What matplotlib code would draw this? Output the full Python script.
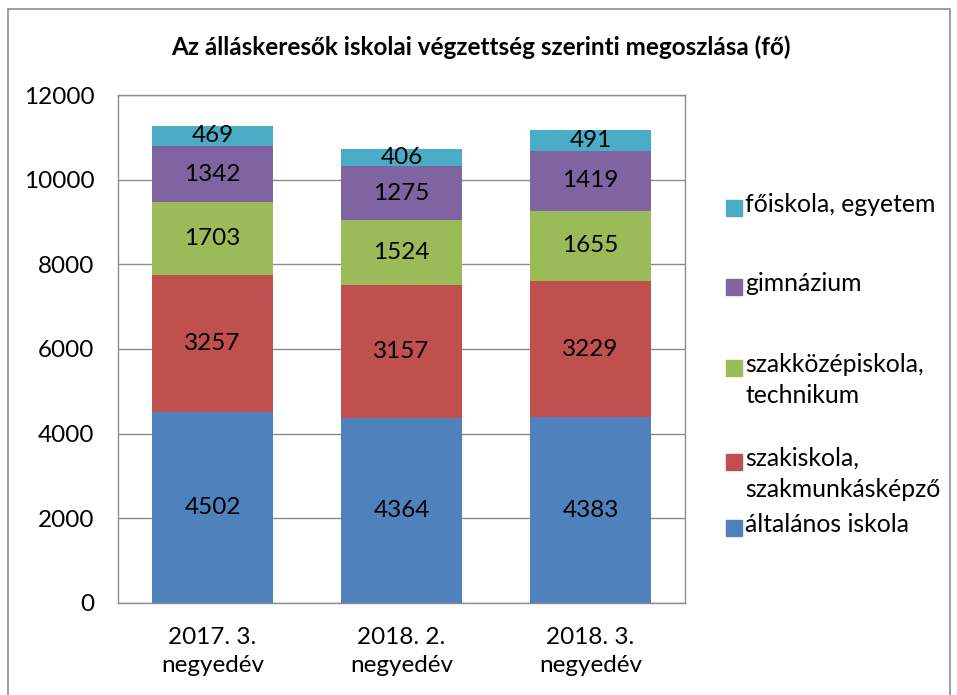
import matplotlib.pyplot as plt
from matplotlib.patches import Rectangle

plt.rcParams['font.family'] = ['Lato', 'DejaVu Sans']

quarters = ['2017. 3.\nnegyedév', '2018. 2.\nnegyedév', '2018. 3.\nnegyedév']
series = ['általános iskola', 'szakiskola,\nszakmunkásképző', 'szakközépiskola,\ntechnikum',
          'gimnázium', 'főiskola, egyetem']
altalanos = [4502, 4364, 4383]
szakiskola = [3257, 3157, 3229]
szakkozep = [1703, 1524, 1655]
gimnazium = [1342, 1275, 1419]
foiskola = [469, 406, 491]
colors = ['#4F81BD', '#C0504D', '#9BBB59', '#8064A2', '#4BACC6']

values = [altalanos, szakiskola, szakkozep, gimnazium, foiskola]

fig = plt.figure(figsize=(9.57, 6.95), dpi=100)
ax = fig.add_axes([0.1233, 0.1324, 0.5925, 0.7309])

x = list(range(len(quarters)))
bottom = [0, 0, 0]
for vals, col, name in zip(values, colors, series):
    bars = ax.bar(x, vals, width=0.645, bottom=bottom, color=col, label=name, zorder=2)
    ax.bar_label(bars, labels=[str(v) for v in vals], label_type='center', fontsize=17.5, color='black')
    bottom = [b + v for b, v in zip(bottom, vals)]

ax.set_xlim(-0.5, 2.5)
ax.set_ylim(0, 12000)
ax.set_yticks(range(0, 12001, 2000))
ax.set_xticks(x)
ax.set_xticklabels(quarters, fontsize=17.5, linespacing=1.45)
ax.tick_params(axis='y', labelsize=17.5, length=0, pad=17)
ax.tick_params(axis='x', length=0, pad=17)
ax.grid(axis='y', color='#8c8c8c', linewidth=1, zorder=0)
for s in ax.spines.values():
    s.set_color('#8c8c8c')
    s.set_linewidth(1)

fig.text(0.502, 0.932, 'Az álláskeresők iskolai végzettség szerinti megoszlása (fő)',
         ha='center', va='center', fontsize=17.5, fontweight='bold')

# legend, top entry first
leg_y = [208, 287, 368, 462, 528]
for i, name in enumerate(reversed(series)):
    col = colors[len(series) - 1 - i]
    yc = 1 - leg_y[i] / 695
    fig.patches.append(Rectangle((726 / 957, yc - 8 / 695), 16 / 957, 16 / 695,
                                 transform=fig.transFigure, color=col))
    fig.text(745 / 957, yc + 15 / 695, name, ha='left', va='top', fontsize=17.8, linespacing=1.4)

# outer chart border
fig.patches.append(Rectangle((8 / 957, -0.01), 942 / 957, 1 - 9 / 695 + 0.01,
                             transform=fig.transFigure, fill=False, edgecolor='#8c8c8c', linewidth=1.2))

fig.savefig('out.png', dpi=100)
